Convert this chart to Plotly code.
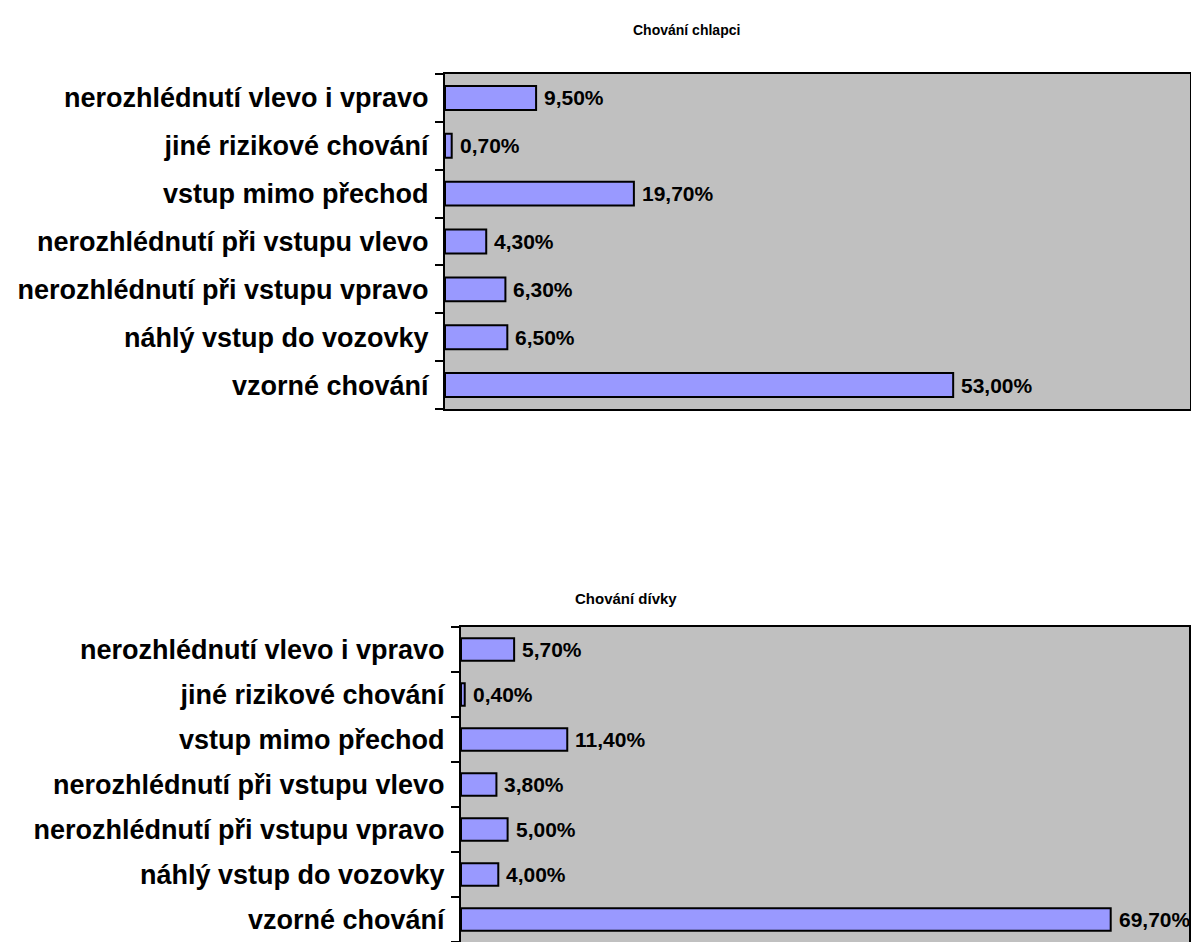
import plotly.graph_objects as go

# Categories, listed top to bottom as shown on the chart
categories = [
    "nerozhlédnutí vlevo i vpravo",
    "jiné rizikové chování",
    "vstup mimo přechod",
    "nerozhlédnutí při vstupu vlevo",
    "nerozhlédnutí při vstupu vpravo",
    "náhlý vstup do vozovky",
    "vzorné chování",
]
boys = [9.5, 0.7, 19.7, 4.3, 6.3, 6.5, 53.0]
girls = [5.7, 0.4, 11.4, 3.8, 5.0, 4.0, 69.7]
titles = ["Chování chlapci", "Chování dívky"]

FONT = "Liberation Sans, Arial, sans-serif"
W, H = 1191, 942

fig = go.Figure()

panels = [
    dict(vals=boys, xa="x", ya="y", xd=[445 / W, 1190 / W], yd=[1 - 409 / H, 1 - 74 / H],
         xr=[0, 77.7], title=titles[0], tx=686, ty=30, tsize=14),
    dict(vals=girls, xa="x2", ya="y2", xd=[461 / W, 1189 / W], yd=[0, 1 - 627 / H],
         xr=[0, 78.1], title=titles[1], tx=626, ty=598, tsize=15),
]

for i, p in enumerate(panels):
    fig.add_trace(go.Bar(
        x=p["vals"], y=categories, orientation="h", xaxis=p["xa"], yaxis=p["ya"],
        width=0.5, marker=dict(color="#9999FF", line=dict(color="#000000", width=2)),
        showlegend=False, hoverinfo="skip",
    ))
    for c, v in zip(categories, p["vals"]):
        fig.add_annotation(
            x=v, y=c, xref=p["xa"], yref=p["ya"], text=f"{v:.2f}%".replace(".", ","),
            showarrow=False, xanchor="left", xshift=6,
            font=dict(family=FONT, size=21, color="#000000", weight="bold"),
        )
    fig.add_annotation(
        x=p["tx"] / W, y=1 - p["ty"] / H, xref="paper", yref="paper", text=p["title"],
        showarrow=False, xanchor="center", yanchor="middle",
        font=dict(family=FONT, size=p["tsize"], color="#000000", weight="bold"),
    )

common_y = dict(
    type="category", categoryorder="array", categoryarray=categories[::-1],
    showline=True, linecolor="#000000", linewidth=2, mirror=True,
    ticks="outside", tickson="boundaries", ticklen=8, tickwidth=2, tickcolor="#000000",
    ticklabelstandoff=9,
    tickfont=dict(family=FONT, size=27, color="#000000", weight="bold"),
    showgrid=False, zeroline=False,
)

fig.update_layout(
    width=W, height=H, margin=dict(l=0, r=0, t=0, b=0),
    paper_bgcolor="#FFFFFF", plot_bgcolor="#C0C0C0", bargap=0.5,
    xaxis=dict(domain=panels[0]["xd"], range=panels[0]["xr"], anchor="y",
               showline=True, linecolor="#000000", linewidth=2, mirror=True,
               showticklabels=False, ticks="", showgrid=False, zeroline=False),
    yaxis=dict(domain=panels[0]["yd"], anchor="x", **common_y),
    xaxis2=dict(domain=panels[1]["xd"], range=panels[1]["xr"], anchor="y2", side="top",
                showline=True, linecolor="#000000", linewidth=2, mirror=False,
                showticklabels=False, ticks="", showgrid=False, zeroline=False),
    yaxis2=dict(domain=panels[1]["yd"], anchor="x2", **common_y),
)

fig.write_html("out.html")
